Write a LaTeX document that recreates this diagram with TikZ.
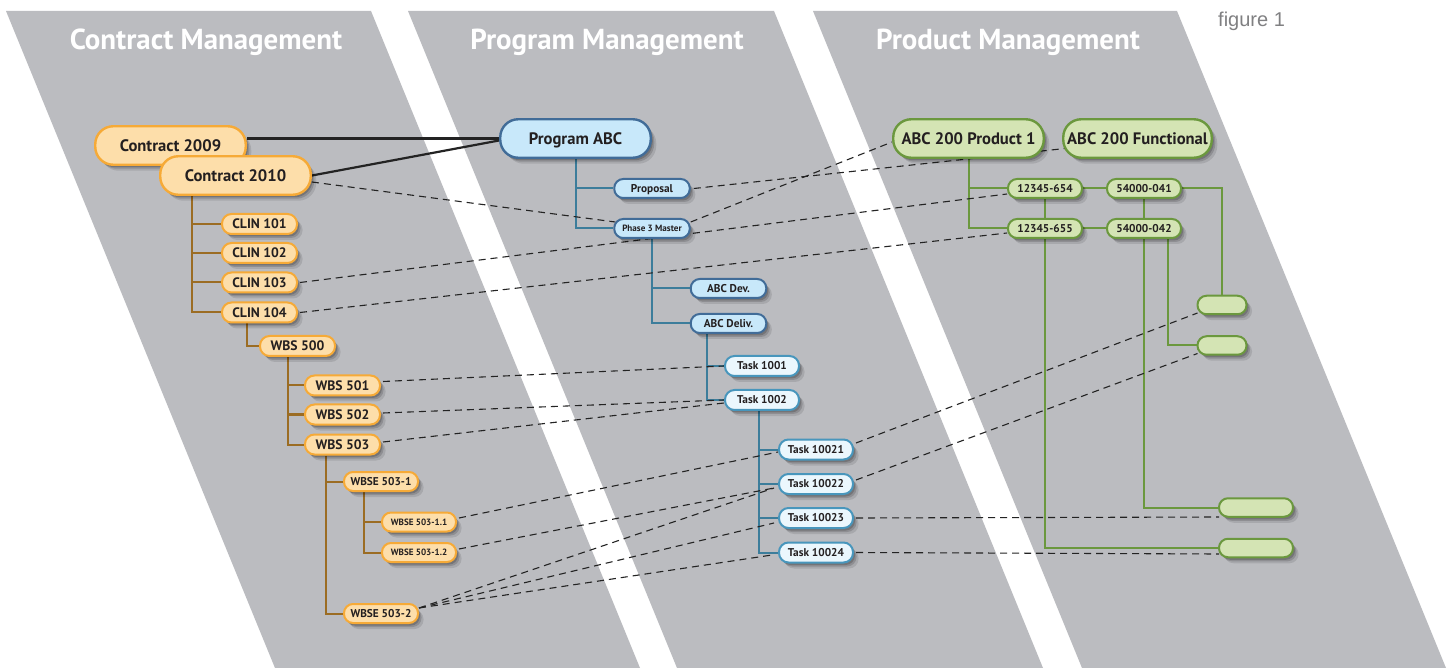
\documentclass[tikz,border=0pt]{standalone}
\usepackage{fontspec}
\setmainfont{PT Sans}
\newfontfamily\figfont{Liberation Sans}
\usetikzlibrary{shadows}
\pgfdeclarelayer{bandlayer}
\pgfdeclarelayer{linelayer}
\pgfsetlayers{bandlayer,linelayer,main}
\definecolor{bandgray}{RGB}{187,188,192}
\definecolor{txtdark}{RGB}{35,31,32}
\definecolor{ofill}{RGB}{253,222,170}
\definecolor{oborder}{RGB}{246,170,55}
\definecolor{oline}{RGB}{155,108,35}
\definecolor{bfill}{RGB}{200,232,250}
\definecolor{bborder}{RGB}{65,108,152}
\definecolor{tfill}{RGB}{235,247,253}
\definecolor{tborder}{RGB}{72,150,188}
\definecolor{bline}{RGB}{60,125,155}
\definecolor{gfill}{RGB}{212,228,180}
\definecolor{gborder}{RGB}{107,152,62}
\definecolor{dashcol}{RGB}{35,35,35}
\definecolor{figgray}{RGB}{128,128,130}
\begin{document}
\begin{tikzpicture}[x=1pt,y=-1pt,
  title/.style={text=white,font=\bfseries\fontsize{28.9}{31}\selectfont,anchor=base,inner sep=0pt},
  shd/.style={drop shadow={shadow xshift=5.5pt,shadow yshift=-6pt,opacity=0.10,fill=black},
              drop shadow={shadow xshift=3.5pt,shadow yshift=-4pt,opacity=0.15,fill=black},
              drop shadow={shadow xshift=2pt,shadow yshift=-2.5pt,opacity=0.18,fill=black}},
  pill/.style={rectangle,rounded corners=#1,inner sep=0pt,text=txtdark,shd},
  fbig/.style={font=\bfseries\fontsize{16.6}{18}\selectfont,text height=11.5pt,text depth=0pt},
  fmed/.style={font=\bfseries\fontsize{13.7}{15}\selectfont,text height=9.5pt,text depth=0pt},
  fsml/.style={font=\bfseries\fontsize{11.3}{13}\selectfont,text height=7.9pt,text depth=0pt},
  ftny/.style={font=\bfseries\fontsize{9.1}{11}\selectfont,text height=6.3pt,text depth=0pt},
  obig/.style={pill=18pt,fbig,fill=ofill,draw=oborder,line width=2.4pt,minimum width=150.5pt,minimum height=38.5pt},
  omed/.style={pill=9.5pt,fmed,fill=ofill,draw=oborder,line width=2pt,minimum width=75pt,minimum height=20pt},
  osml/.style={pill=9pt,fill=ofill,draw=oborder,line width=2pt,minimum width=74pt,minimum height=19pt},
  bbig/.style={pill=18pt,fbig,fill=bfill,draw=bborder,line width=2.4pt,minimum width=150.5pt,minimum height=38.5pt},
  bmed/.style={pill=9pt,fill=bfill,draw=bborder,line width=2pt,minimum width=75.5pt,minimum height=19pt},
  tbox/.style={pill=9.5pt,fsml,fill=tfill,draw=tborder,line width=2pt,minimum width=74pt,minimum height=20pt},
  gbig/.style={pill=18pt,fbig,fill=gfill,draw=gborder,line width=2.4pt,minimum height=38.5pt},
  gmed/.style={pill=9pt,fsml,fill=gfill,draw=gborder,line width=2pt,minimum width=74pt,minimum height=19pt},
  gempty/.style={pill=9pt,fill=gfill,draw=gborder,line width=2pt,minimum height=18.5pt},
  brownl/.style={draw=oline,line width=2pt},
  bluel/.style={draw=bline,line width=2pt},
  greenl/.style={draw=gborder,line width=2pt},
  solidl/.style={draw=dashcol,line width=2.2pt},
  dashl/.style={draw=dashcol,line width=1.1pt,dash pattern=on 7pt off 5pt},
  figlabel/.style={text=figgray,font=\figfont\fontsize{20}{22}\selectfont,anchor=base west,inner sep=0pt}
]
\useasboundingbox (0,0) rectangle (1452,668);
\begin{pgfonlayer}{bandlayer}
  \fill[white] (0,0) rectangle (1452,668);
  \fill[bandgray] (6,11) -- (371,11) -- (640,668) -- (275,668) -- cycle;
  \fill[bandgray] (408,11) -- (774,11) -- (1043,668) -- (677,668) -- cycle;
  \fill[bandgray] (813,11) -- (1177,11) -- (1446,668) -- (1082,668) -- cycle;
\end{pgfonlayer}

% titles
\node[title] (t1) at (206,50) {Contract Management};
\node[title] (t2) at (607,50) {Program Management};
\node[title] (t3) at (1008,50) {Product Management};
\node[figlabel] (fig) at (1218,27) {figure 1};

% contract side
\node[obig] (c2009) at (170.5,145.5) {Contract 2009};
\node[obig] (c2010) at (235.5,175.5) {Contract 2010};
\node[omed] (clin101) at (259.5,224) {CLIN 101};
\node[omed] (clin102) at (259.5,253) {CLIN 102};
\node[omed] (clin103) at (259.5,282.5) {CLIN 103};
\node[omed] (clin104) at (259.5,312.5) {CLIN 104};
\node[omed] (wbs500) at (297.5,346) {WBS 500};
\node[omed] (wbs501) at (342.5,385.5) {WBS 501};
\node[omed] (wbs502) at (342.5,414.5) {WBS 502};
\node[omed] (wbs503) at (342.5,444.5) {WBS 503};
\node[osml,fsml] (wbse5031) at (381,481.5) {WBSE 503-1};
\node[osml,ftny] (wbse50311) at (419,522) {WBSE 503-1.1};
\node[osml,ftny] (wbse50312) at (419,552.5) {WBSE 503-1.2};
\node[osml,fsml] (wbse5032) at (381,613.5) {WBSE 503-2};

% program side
\node[bbig] (prog) at (575.5,138.5) {Program ABC};
\node[bmed,fsml] (proposal) at (652,188.5) {Proposal};
\node[bmed,ftny] (phase3) at (652,228.5) {Phase 3 Master};
\node[bmed,fsml] (abcdev) at (728.5,288.5) {ABC Dev.};
\node[bmed,fsml] (abcdeliv) at (728.5,323.5) {ABC Deliv.};
\node[tbox] (task1001) at (762,366) {Task 1001};
\node[tbox] (task1002) at (762,400) {Task 1002};
\node[tbox] (task10021) at (816,449.5) {Task 10021};
\node[tbox] (task10022) at (816,484) {Task 10022};
\node[tbox] (task10023) at (816,518) {Task 10023};
\node[tbox] (task10024) at (816,552.5) {Task 10024};

% product side
\node[gbig,minimum width=150.5pt] (p1) at (968.5,138.5) {ABC 200 Product 1};
\node[gbig,minimum width=148.5pt] (func) at (1137.5,138.5) {ABC 200 Functional};
\node[gmed] (n654) at (1045,188.5) {12345-654};
\node[gmed] (n655) at (1045,228.5) {12345-655};
\node[gmed] (n041) at (1144,188.5) {54000-041};
\node[gmed] (n042) at (1144,228.5) {54000-042};
\node[gempty,minimum width=49pt] (e1) at (1222,305) {};
\node[gempty,minimum width=49pt] (e2) at (1222,345.5) {};
\node[gempty,minimum width=74pt] (e3) at (1256,507.5) {};
\node[gempty,minimum width=74pt] (e4) at (1256,548) {};

\begin{pgfonlayer}{linelayer}
  % contract tree
  \draw[brownl] ([xshift=-43.5pt]c2010.south) |- (clin101.west);
  \draw[brownl] ([xshift=-43.5pt]c2010.south) |- (clin102.west);
  \draw[brownl] ([xshift=-43.5pt]c2010.south) |- (clin103.west);
  \draw[brownl] ([xshift=-43.5pt]c2010.south) |- (clin104.west);
  \draw[brownl] ([xshift=-12.5pt]clin104.south) |- (wbs500.west);
  \draw[brownl] ([xshift=-9.5pt]wbs500.south) |- (wbs501.west);
  \draw[brownl] ([xshift=-9.5pt]wbs500.south) |- (wbs502.west);
  \draw[brownl] ([xshift=-9.5pt]wbs500.south) |- (wbs503.west);
  \draw[brownl] ([xshift=-16.5pt]wbs503.south) |- (wbse5031.west);
  \draw[brownl] ([xshift=-16.5pt]wbs503.south) |- (wbse5032.west);
  \draw[brownl] ([xshift=-17pt]wbse5031.south) |- (wbse50311.west);
  \draw[brownl] ([xshift=-17pt]wbse5031.south) |- (wbse50312.west);
  % program tree
  \draw[bluel] (prog.south) |- (proposal.west);
  \draw[bluel] (prog.south) |- (phase3.west);
  \draw[bluel] (phase3.south) |- (abcdev.west);
  \draw[bluel] (phase3.south) |- (abcdeliv.west);
  \draw[bluel] ([xshift=-21.5pt]abcdeliv.south) |- (task1001.west);
  \draw[bluel] ([xshift=-21.5pt]abcdeliv.south) |- (task1002.west);
  \draw[bluel] ([xshift=-3pt]task1002.south) |- (task10021.west);
  \draw[bluel] ([xshift=-3pt]task1002.south) |- (task10022.west);
  \draw[bluel] ([xshift=-3pt]task1002.south) |- (task10023.west);
  \draw[bluel] ([xshift=-3pt]task1002.south) |- (task10024.west);
  % product tree
  \draw[greenl] (p1.south) |- (n654.west);
  \draw[greenl] (p1.south) |- (n655.west);
  \draw[greenl] (n654.east) -- (n041.west);
  \draw[greenl] (n655.east) -- (n042.west);
  \draw[greenl] (n654.south) -- (n655.north);
  \draw[greenl] (n041.south) -- (n042.north);
  \draw[greenl] (n041.east) -| (e1.north);
  \draw[greenl] ([xshift=24pt]n042.south) |- (e2.west);
  \draw[greenl] (n042.south) |- (e3.west);
  \draw[greenl] (n655.south) |- (e4.west);
  % solid links
  \draw[solidl] (prog.west) -- (prog.west -| c2009.east);
  \draw[solidl] (c2010.east) -- ([yshift=-2pt]prog.west);
  % dashed links
  \draw[dashl] ([yshift=-6.5pt]c2010.east) -- ([xshift=2pt,yshift=6.5pt]phase3.west);
  \draw[dashl] ([xshift=3pt]proposal.east) -- ([xshift=3pt,yshift=-10pt]func.west);
  \draw[dashl] ([yshift=6.5pt]phase3.east) -- ([yshift=-3.5pt]p1.west);
  \draw[dashl] ([xshift=2pt]clin103.east) -- ([yshift=-5.5pt]n654.west);
  \draw[dashl] ([xshift=2pt]clin104.east) -- ([yshift=-4.5pt]n655.west);
  \draw[dashl] ([xshift=2pt,yshift=4pt]wbs501.east) -- (task1001.west);
  \draw[dashl] ([xshift=2pt,yshift=1.5pt]wbs502.east) -- (task1002.west);
  \draw[dashl] ([xshift=2pt,yshift=2.5pt]wbs503.east) -- ([yshift=-3pt]task1002.west);
  \draw[dashl] ([xshift=2pt,yshift=4pt]wbse50311.east) -- ([yshift=-2.5pt]task10021.west);
  \draw[dashl] ([xshift=2pt,yshift=3.5pt]wbse50312.east) -- ([xshift=-4pt,yshift=-4pt]task10022.west);
  \draw[dashl] ([yshift=5.5pt]wbse5032.east) -- ([xshift=-4pt,yshift=-4pt]task10022.west);
  \draw[dashl] ([yshift=5.5pt]wbse5032.east) -- ([xshift=-4pt,yshift=-5pt]task10023.west);
  \draw[dashl] ([yshift=5.5pt]wbse5032.east) -- ([xshift=-6pt,yshift=-2.5pt]task10024.west);
  \draw[dashl] ([xshift=2pt,yshift=6.5pt]task10021.east) -- ([xshift=1pt,yshift=-8pt]e1.west);
  \draw[dashl] ([xshift=2pt,yshift=4pt]task10022.east) -- ([xshift=1pt,yshift=-8pt]e2.west);
  \draw[dashl] ([xshift=2pt]task10023.east) -- ([xshift=1pt,yshift=-9.5pt]e3.west);
  \draw[dashl] ([xshift=2pt]task10024.east) -- ([xshift=1pt,yshift=-6pt]e4.west);
\end{pgfonlayer}
\end{tikzpicture}
\end{document}
